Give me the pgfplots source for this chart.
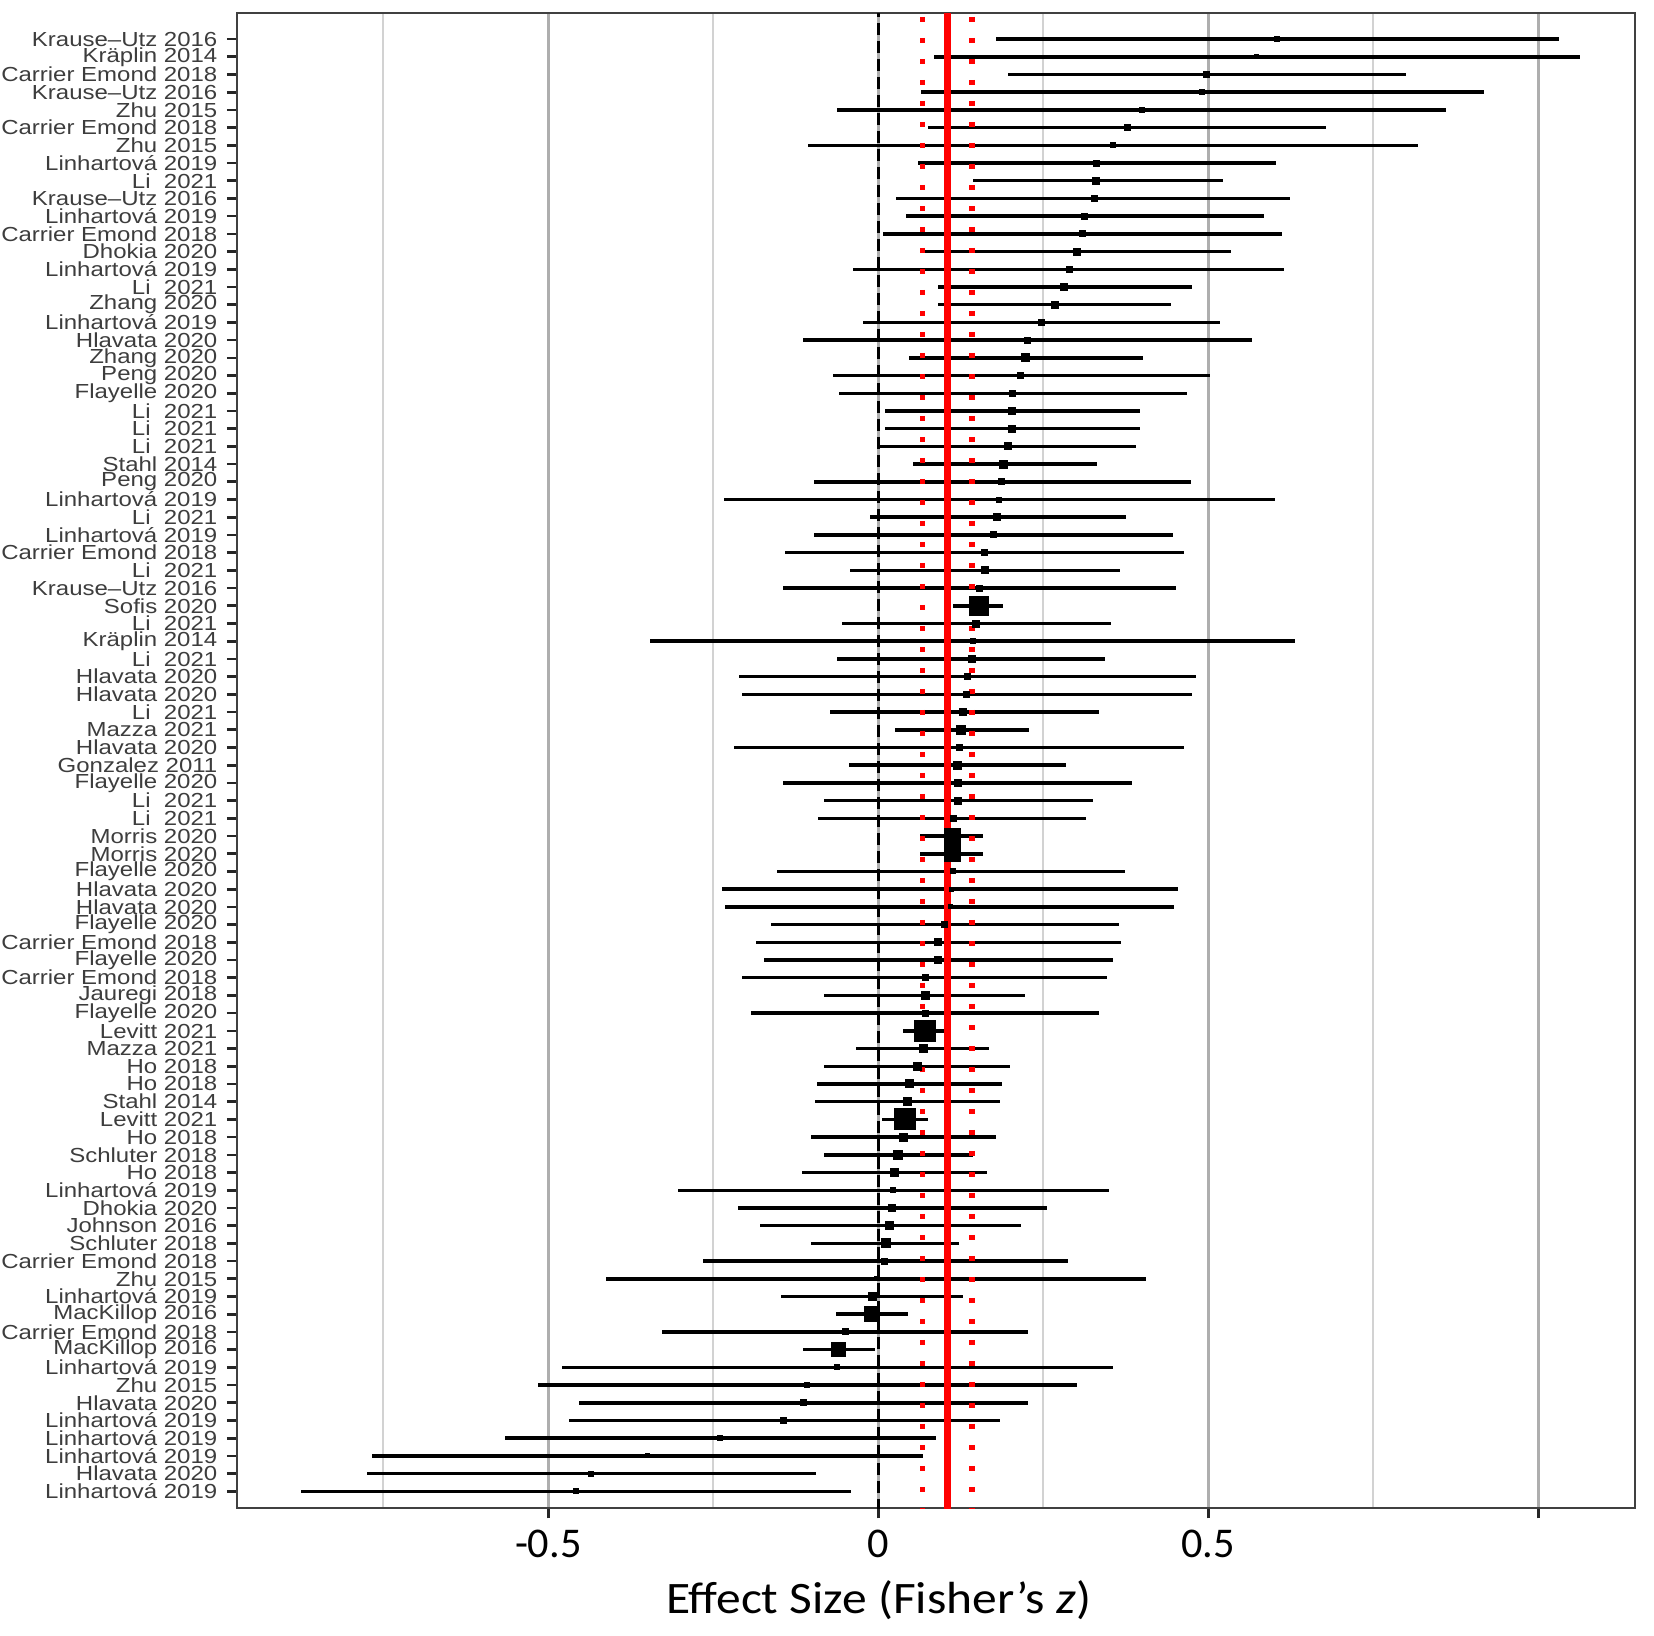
\documentclass[border=0pt]{standalone}
\usepackage{pgfplots}
\pgfplotsset{compat=1.18}
\usepackage{pgfplotstable}
\usepackage{fontspec}
\setmainfont{Liberation Sans}[FakeStretch=1.18]
\newfontfamily\calib{Carlito}
\newfontfamily\calibS{Carlito}[FakeStretch=1.1]
\definecolor{labgray}{HTML}{3D3D3D}
\definecolor{majgrid}{HTML}{AEAEAE}
\definecolor{mingrid}{HTML}{D2D2D2}

\pgfplotstableread{
row lo est hi w
1 0.178 0.604 1.032 6
2 0.085 0.573 1.063 5
3 0.196 0.498 0.799 7
4 0.065 0.490 0.918 6
5 -0.062 0.399 0.860 6
6 0.075 0.377 0.678 7
7 -0.106 0.355 0.817 6
8 0.060 0.331 0.602 7
9 0.144 0.330 0.523 8
10 0.027 0.327 0.624 7
11 0.042 0.313 0.585 7
12 0.007 0.310 0.612 7
13 0.068 0.301 0.535 8
14 -0.038 0.289 0.615 7
15 0.090 0.282 0.476 8
16 0.091 0.267 0.443 8
17 -0.023 0.247 0.518 7
18 -0.114 0.226 0.566 7
19 0.047 0.223 0.401 9
20 -0.068 0.216 0.502 7
21 -0.060 0.203 0.467 7
22 0.010 0.203 0.396 8
23 0.010 0.203 0.396 8
24 0.000 0.196 0.390 8
25 0.052 0.190 0.332 9
26 -0.098 0.187 0.474 7
27 -0.234 0.183 0.601 6
28 -0.012 0.180 0.375 8
29 -0.097 0.175 0.446 7
30 -0.141 0.161 0.463 7
31 -0.043 0.161 0.366 8
32 -0.145 0.153 0.451 7
33 0.113 0.153 0.189 20
34 -0.055 0.148 0.352 8
35 -0.346 0.143 0.632 6
36 -0.062 0.142 0.344 8
37 -0.211 0.135 0.482 7
38 -0.206 0.134 0.476 7
39 -0.073 0.129 0.334 8
40 0.026 0.126 0.228 10
41 -0.218 0.123 0.463 7
42 -0.045 0.120 0.285 9
43 -0.144 0.120 0.385 8
44 -0.082 0.121 0.325 8
45 -0.092 0.114 0.315 7
46 0.063 0.112 0.158 17
47 0.063 0.112 0.158 17
48 -0.153 0.113 0.374 6
49 -0.237 0.111 0.454 5
50 -0.232 0.109 0.448 5
51 -0.162 0.100 0.364 7
52 -0.186 0.091 0.367 8
53 -0.173 0.091 0.355 8
54 -0.206 0.071 0.347 7
55 -0.082 0.071 0.223 9
56 -0.193 0.071 0.334 7
57 0.037 0.071 0.100 22
58 -0.034 0.068 0.167 9
59 -0.082 0.059 0.199 9
60 -0.093 0.047 0.188 9
61 -0.096 0.044 0.184 9
62 0.005 0.041 0.076 22
63 -0.102 0.038 0.178 9
64 -0.082 0.030 0.143 10
65 -0.116 0.024 0.164 9
66 -0.303 0.022 0.349 6
67 -0.212 0.021 0.256 8
68 -0.180 0.017 0.216 9
69 -0.102 0.011 0.123 10
70 -0.266 0.010 0.288 7
71 -0.412 -0.003 0.405 5
72 -0.148 -0.009 0.129 9
73 -0.064 -0.010 0.045 16
74 -0.327 -0.050 0.227 7
75 -0.114 -0.061 -0.005 15
76 -0.479 -0.062 0.355 6
77 -0.515 -0.108 0.301 6
78 -0.453 -0.114 0.227 7
79 -0.469 -0.143 0.184 7
80 -0.565 -0.240 0.087 6
81 -0.767 -0.350 0.068 5
82 -0.775 -0.436 -0.094 6
83 -0.874 -0.458 -0.041 6
}\forestdata

\begin{document}
\begin{tikzpicture}
\begin{axis}[
  name=ax,
  scale only axis, width=419.4pt, height=448.6pt,
  xmin=-0.9717, xmax=1.1465,
  y dir=reverse, ymin=-0.47, ymax=83.96,
  axis line style={black!75, line width=0.6pt},
  tick align=outside, tick pos=left,
  xtick={-0.5,0,0.5,1}, xticklabels={-0.5,0,0.5,{}},
  minor xtick={-0.75,-0.25,0.25,0.75},
  xmajorgrids, xminorgrids,
  major grid style={majgrid, line width=0.8pt},
  minor grid style={mingrid, line width=0.5pt},
  minor tick length=0pt, major tick length=3pt,
  tick style={black!85, line width=0.8pt},
  ytick={1,...,83},
  yticklabels={Krause--Utz 2016, Kräplin 2014, Carrier Emond 2018, Krause--Utz 2016, Zhu 2015, Carrier Emond 2018, Zhu 2015, Linhartová 2019, Li~~2021, Krause--Utz 2016, Linhartová 2019, Carrier Emond 2018, Dhokia 2020, Linhartová 2019, Li~~2021, Zhang 2020, Linhartová 2019, Hlavata 2020, Zhang 2020, Peng 2020, Flayelle 2020, Li~~2021, Li~~2021, Li~~2021, Stahl 2014, Peng 2020, Linhartová 2019, Li~~2021, Linhartová 2019, Carrier Emond 2018, Li~~2021, Krause--Utz 2016, Sofis 2020, Li~~2021, Kräplin 2014, Li~~2021, Hlavata 2020, Hlavata 2020, Li~~2021, Mazza 2021, Hlavata 2020, Gonzalez 2011, Flayelle 2020, Li~~2021, Li~~2021, Morris 2020, Morris 2020, Flayelle 2020, Hlavata 2020, Hlavata 2020, Flayelle 2020, Carrier Emond 2018, Flayelle 2020, Carrier Emond 2018, Jauregi 2018, Flayelle 2020, Levitt 2021, Mazza 2021, Ho 2018, Ho 2018, Stahl 2014, Levitt 2021, Ho 2018, Schluter 2018, Ho 2018, Linhartová 2019, Dhokia 2020, Johnson 2016, Schluter 2018, Carrier Emond 2018, Zhu 2015, Linhartová 2019, MacKillop 2016, Carrier Emond 2018, MacKillop 2016, Linhartová 2019, Zhu 2015, Hlavata 2020, Linhartová 2019, Linhartová 2019, Linhartová 2019, Hlavata 2020, Linhartová 2019},
  yticklabel style={font=\fontsize{6.1}{6.1}\selectfont, text=labgray, inner sep=0pt, xshift=-2.7pt},
  xticklabel style={font=\calib\fontsize{12.7}{14}\selectfont, text=black},
  xlabel={Effect Size (Fisher’s \textit{z})},
  xlabel style={font=\calibS\fontsize{13.5}{15}\selectfont, at={(axis description cs:0.459,0)}, anchor=base, yshift=-31.5pt},
]
\addplot[only marks, mark=square*, black, scatter,
  scatter/use mapped color={draw=black, fill=black},
  visualization depends on={0.15*\thisrow{w}-0.2 \as \ms},
  scatter/@pre marker code/.append style={/tikz/mark size=\ms pt, /tikz/line width=0.4pt},
  error bars/.cd, x dir=both, x explicit, error mark=none,
  error bar style={line width=1.05pt, black, solid}]
  table[x=est, y=row, x error minus expr=\thisrow{est}-\thisrow{lo}, x error plus expr=\thisrow{hi}-\thisrow{est}] {\forestdata};
\addplot[black, line width=0.8pt, dash pattern=on 3.6pt off 1.8pt] coordinates {(0,-5) (0,90)};
\addplot[red, line width=2.2pt] coordinates {(0.1045,-5) (0.1045,90)};
\addplot[red, line width=1.6pt, dash pattern=on 1.5pt off 4.8pt] coordinates {(0.067,-5) (0.067,90)};
\addplot[red, line width=1.6pt, dash pattern=on 1.5pt off 4.8pt] coordinates {(0.142,-5) (0.142,90)};
\end{axis}
\pgfresetboundingbox
\path ([shift={(-71.1pt,-38.1pt)}]ax.south west) rectangle ([shift={(5.7pt,3.9pt)}]ax.north east);
\end{tikzpicture}
\end{document}
